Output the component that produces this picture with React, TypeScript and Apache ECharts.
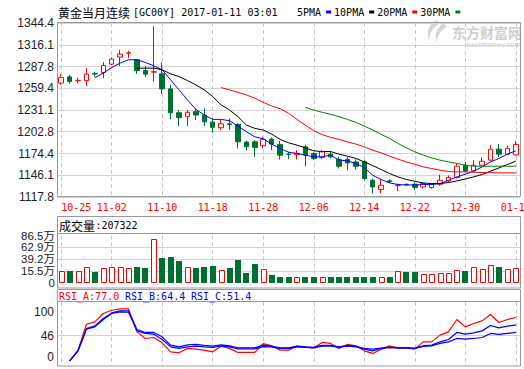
import React, { useEffect, useRef } from 'react';
import * as echarts from 'echarts';

const dates = [
  '10-25','10-26','10-27','10-28','10-31','11-01','11-02','11-03','11-04','11-07',
  '11-08','11-09','11-10','11-11','11-14','11-15','11-16','11-17','11-18','11-21',
  '11-22','11-23','11-24','11-25','11-28','11-29','11-30','12-01','12-02','12-05',
  '12-06','12-07','12-08','12-09','12-12','12-13','12-14','12-15','12-16','12-19',
  '12-20','12-21','12-22','12-23','12-26','12-27','12-28','12-29','12-30','01-03',
  '01-04','01-05','01-06','01-09','01-10'
];

const opens = [
  1266.0,1274.2,1269.3,1269.4,1278.7,1279.9,1290.8,1300.0,1305.0,1296.5,
  1282.5,1280.4,1278.2,1258.6,1227.6,1222.4,1228.9,1224.6,1215.4,1208.0,
  1213.0,1212.4,1189.3,1189.7,1184.5,1193.2,1186.3,1173.5,1173.0,1183.1,
  1174.5,1169.3,1173.6,1166.7,1166.7,1163.5,1164.0,1139.6,1127.5,1138.8,
  1132.5,1134.3,1134.4,1130.9,1130.1,1134.4,1138.7,1143.2,1159.2,1151.8,
  1159.2,1165.8,1180.1,1173.6,1172.7
];
const closes = [
  1273.3,1268.1,1269.8,1277.8,1278.0,1289.0,1297.4,1303.9,1305.5,1282.5,
  1277.8,1280.9,1258.6,1227.6,1221.1,1228.1,1224.6,1215.8,1208.5,1213.2,
  1212.3,1189.7,1183.2,1182.4,1192.8,1186.7,1172.3,1173.1,1174.4,1172.3,
  1168.0,1176.6,1170.1,1157.9,1162.2,1157.9,1141.8,1130.9,1133.1,1138.0,
  1133.1,1133.6,1130.1,1135.3,1134.4,1139.6,1143.2,1157.9,1151.8,1159.2,
  1164.4,1180.1,1173.6,1181.1,1186.3
];
const lows = [
  1263.8,1265.1,1266.0,1262.5,1274.6,1272.5,1289.5,1288.6,1298.7,1278.2,
  1273.9,1268.1,1252.0,1218.9,1210.2,1210.2,1218.0,1210.2,1201.4,1205.0,
  1205.0,1181.1,1178.8,1170.1,1181.1,1178.8,1166.7,1167.1,1166.7,1158.0,
  1166.0,1167.0,1168.0,1154.9,1152.7,1153.6,1139.6,1122.2,1123.0,1136.0,
  1125.6,1132.5,1126.5,1129.0,1128.5,1132.5,1137.0,1141.8,1150.5,1150.5,
  1157.9,1164.5,1170.1,1172.3,1171.9
];
const highs = [
  1277.8,1276.9,1273.3,1285.6,1280.8,1293.5,1299.5,1309.5,1308.2,1297.4,
  1288.6,1340.0,1292.9,1263.8,1231.1,1231.1,1233.3,1233.3,1220.3,1218.0,
  1219.9,1213.7,1191.0,1191.9,1196.2,1195.4,1191.0,1176.6,1178.8,1185.4,
  1176.0,1179.0,1177.0,1170.1,1170.1,1166.7,1165.8,1141.8,1141.8,1141.0,
  1135.3,1135.5,1136.9,1136.5,1135.5,1147.0,1146.0,1161.4,1163.5,1165.8,
  1169.3,1185.4,1186.7,1184.5,1190.6
];

const ma5 = [
  null,null,null,null,1273.3,1279.1,1286.4,1292.2,1296.5,1296.5,
  1293.0,1288.6,1283.4,1270.3,1257.3,1244.2,1232.0,1224.6,1218.9,1218.9,
  1217.1,1210.2,1202.8,1196.2,1193.6,1186.7,1181.1,1176.2,1174.5,1172.3,
  1170.1,1170.1,1172.3,1165.8,1164.9,1161.5,1156.2,1146.2,1140.6,1136.2,
  1134.0,1133.5,1133.5,1134.0,1134.0,1135.3,1139.6,1144.0,1147.5,1151.4,
  1157.0,1163.5,1168.0,1173.6,1177.9
];
const ma10 = [
  null,null,null,null,null,null,null,null,null,1285.6,
  1285.6,1285.6,1283.4,1278.2,1274.6,1269.4,1263.8,1257.3,1248.5,1237.7,
  1231.1,1222.4,1211.5,1207.2,1205.0,1199.7,1192.8,1188.4,1185.4,1181.8,
  1177.9,1177.0,1177.0,1173.6,1171.0,1168.0,1163.5,1158.8,1153.6,1148.4,
  1144.0,1140.6,1138.3,1136.1,1135.3,1135.3,1136.6,1138.7,1141.3,1144.0,
  1147.1,1151.4,1155.7,1160.1,1164.5
];
const ma20 = [
  null,null,null,null,null,null,null,null,null,null,
  null,null,null,null,null,null,null,null,null,1260.3,
  1257.3,1254.2,1250.7,1246.4,1241.0,1236.3,1232.8,1226.8,1218.9,1211.5,
  1204.1,1199.0,1195.5,1192.8,1189.7,1186.7,1183.1,1178.8,1175.3,1171.0,
  1167.1,1163.5,1160.5,1157.0,1154.9,1152.7,1151.0,1150.5,1150.5,1150.1,
  1149.7,1149.7,1149.2,1149.2,1149.2
];
const ma30 = [
  null,null,null,null,null,null,null,null,null,null,
  null,null,null,null,null,null,null,null,null,null,
  null,null,null,null,null,null,null,null,null,1234.6,
  1231.0,1228.1,1225.5,1222.4,1218.9,1215.0,1210.2,1205.0,1199.4,1194.1,
  1187.6,1181.8,1176.6,1172.3,1168.8,1165.8,1163.5,1161.5,1159.2,1157.9,
  1157.9,1157.9,1157.9,1157.9,1157.9
];

// volume in 万
const volumes = [
  15.0,15.6,15.0,22.5,13.6,20.5,22.5,22.5,20.5,23.1,
  21.1,78.9,41.8,43.2,35.8,22.5,21.1,23.1,25.1,17.1,
  21.1,37.2,11.6,29.7,18.5,7.0,3.0,3.0,2.8,3.0,
  3.0,2.8,3.0,3.0,3.0,3.0,3.0,3.0,2.8,3.0,
  15.0,13.6,13.6,9.0,9.0,11.0,11.0,17.1,15.0,22.5,
  19.1,27.1,23.1,19.1,21.5
];
const lastVolume = 207322;

const rsiA = [
  null,2.9,21.2,65.5,69.5,83.8,89.4,91.6,91.6,52.4,
  41.1,42.8,33.6,18.3,16.6,24.1,22.9,21.2,18.3,28.0,
  24.1,17.2,17.2,17.2,32.3,28.5,21.2,21.2,28.0,25.8,
  25.1,34.3,32.6,24.1,30.9,28.5,20.0,15.5,22.4,28.5,
  25.1,25.1,22.9,35.3,35.3,46.8,52.4,73.5,60.9,66.7,
  71.2,82.1,68.4,73.5,77.0
];
const rsiB = [
  null,2.9,20.0,58.2,62.6,75.3,84.8,88.2,88.2,56.5,
  51.4,51.4,43.9,29.7,26.8,30.2,30.9,29.2,28.0,30.2,
  28.5,25.1,25.1,25.1,29.7,28.0,25.1,25.1,28.0,26.8,
  25.8,29.2,29.2,26.8,29.2,28.0,22.9,20.0,24.1,25.8,
  25.1,25.1,24.1,28.5,29.7,35.3,39.4,51.4,48.5,50.7,
  54.1,63.3,59.2,62.1,64.4
];
const rsiC = [
  null,2.9,20.0,57.0,60.9,73.5,83.8,86.5,86.0,54.1,
  49.7,48.5,39.4,26.8,24.1,26.8,28.0,26.8,25.8,28.5,
  26.8,23.4,23.4,23.4,27.1,26.8,24.1,24.1,26.8,26.3,
  25.1,28.0,28.0,26.3,28.0,26.8,24.1,22.9,24.6,25.8,
  25.1,25.1,24.1,27.5,28.5,32.6,35.3,41.1,39.9,41.1,
  42.8,49.7,48.0,49.7,51.4
];

const priceTicks = ['1117.8','1146.1','1174.4','1202.8','1231.1','1259.4','1287.8','1316.1','1344.4'];
const volTicks = ['0','15.5万','39.2万','62.9万','86.5万'];
const rsiTicks = [0, 46, 100];

const maNames = ['5PMA', '10PMA', '20PMA', '30PMA'];
const maColors = ['#0000ff', '#000000', '#ff0000', '#008000'];
const maSeries = [ma5, ma10, ma20, ma30];
const rsiNames = ['RSI_A', 'RSI_B', 'RSI_C'];
const rsiColors = ['#ff0000', '#0000ff', '#0000ff'];
const rsiSeries = [rsiA, rsiB, rsiC];

const RED = '#ff0000';
const GREEN = '#007030';
const MONO = '"DejaVu Sans Mono", monospace';
const CJK = '"Noto Sans CJK SC"';
const GRID_L = 57;
const GRID_W = 463;

let logoRegistered = false;
function registerLogo() {
  if (logoRegistered) return;
  logoRegistered = true;
  echarts.graphic.registerShape(
    'emLogo',
    echarts.graphic.extendPath(
      'M14 0 C6 3 2 11 5 22 C6 14 9 8 16 4 Z M21 3 C13 8 11 16 13 24 C14 17 17 11 24 7 Z',
      {}
    ) as any
  );
}

function buildOption(): any {
  const candleData = dates.map((_, i) => [opens[i], closes[i], lows[i], highs[i]]);
  const volData = volumes.map((v, i) => [i, v, closes[i] >= opens[i] ? 1 : -1]);
  const VOL_MIN = -8.1;

  const xAxes = [0, 1, 2].map((g) => ({
    type: 'category',
    gridIndex: g,
    data: dates,
    boundaryGap: true,
    axisLine: { show: false },
    axisTick: { show: false },
    axisLabel:
      g === 0
        ? {
            show: true,
            interval: 5,
            color: RED,
            fontFamily: MONO,
            fontSize: 10,
            margin: 5,
            alignMinLabel: 'left',
            hideOverlap: false,
          }
        : { show: false },
    splitLine: {
      show: true,
      interval: 5,
      alignWithLabel: true,
      lineStyle: { color: '#c8c8c8', type: [4, 3], width: 1 },
    },
  }));

  const series: any[] = [
    {
      type: 'candlestick',
      name: 'K',
      xAxisIndex: 0,
      yAxisIndex: 0,
      data: candleData,
      barWidth: 5,
      itemStyle: {
        color: '#ffffff',
        color0: GREEN,
        borderColor: RED,
        borderColor0: GREEN,
        borderWidth: 1,
      },
      z: 3,
    },
    ...maSeries.map((d, k) => ({
      type: 'line',
      name: maNames[k],
      xAxisIndex: 0,
      yAxisIndex: 0,
      data: d,
      symbol: 'none',
      showSymbol: false,
      itemStyle: { color: maColors[k] },
      lineStyle: { color: maColors[k], width: 1 },
      z: 4,
    })),
    {
      type: 'custom',
      name: 'VOL',
      xAxisIndex: 1,
      yAxisIndex: 1,
      data: volData,
      encode: { x: 0, y: 1 },
      renderItem: (params: any, api: any) => {
        const i = api.value(0);
        const v = api.value(1);
        const up = api.value(2) > 0;
        const top = api.coord([i, v]);
        const base = api.coord([i, VOL_MIN]);
        if (up) {
          const w = 5;
          const x = Math.round(top[0] - w / 2) + 0.5;
          return {
            type: 'rect',
            shape: { x, y: Math.round(top[1]) + 0.5, width: w, height: Math.round(base[1]) - Math.round(top[1]) - 1 },
            style: { fill: '#ffffff', stroke: RED, lineWidth: 1 },
          };
        }
        const w = 6;
        const x = Math.round(top[0] - w / 2);
        return {
          type: 'rect',
          shape: { x, y: Math.round(top[1]), width: w, height: Math.round(base[1]) - Math.round(top[1]) },
          style: { fill: GREEN },
        };
      },
    },
    ...rsiSeries.map((d, k) => ({
      type: 'line',
      name: rsiNames[k],
      xAxisIndex: 2,
      yAxisIndex: 2,
      data: d,
      symbol: 'none',
      showSymbol: false,
      lineStyle: { color: rsiColors[k], width: 1.2 },
      z: 4,
      markLine:
        k === 2
          ? {
              silent: true,
              symbol: 'none',
              label: { show: false },
              lineStyle: { color: '#d0d0d0', type: 'solid', width: 1 },
              data: [{ yAxis: rsiTicks[1] }],
              z: 1,
            }
          : undefined,
    })),
  ];

  const last = dates.length - 1;

  const graphic: any[] = [
    // frames
    { type: 'rect', shape: { x: 57.5, y: 22.5, width: GRID_W, height: 174 }, style: { fill: 'none', stroke: '#9a9a9a', lineWidth: 1 }, z: 10, silent: true },
    { type: 'rect', shape: { x: 57.5, y: 216.5, width: GRID_W, height: 71.5 }, style: { fill: 'none', stroke: '#9a9a9a', lineWidth: 1 }, z: 10, silent: true },
    { type: 'line', shape: { x1: 57.5, y1: 233.5, x2: 57.5 + GRID_W, y2: 233.5 }, style: { stroke: '#9a9a9a', lineWidth: 1 }, z: 10, silent: true },
    { type: 'rect', shape: { x: 57.5, y: 289.5, width: GRID_W, height: 76.5 }, style: { fill: 'none', stroke: '#9a9a9a', lineWidth: 1 }, z: 10, silent: true },
    { type: 'line', shape: { x1: 57.5, y1: 301.5, x2: 57.5 + GRID_W, y2: 301.5 }, style: { stroke: '#9a9a9a', lineWidth: 1 }, z: 10, silent: true },
    // title
    { type: 'text', x: 58, y: 12, style: { text: '黄金当月连续', font: `12px ${CJK}`, fill: '#000', verticalAlign: 'middle' }, z: 10 },
    { type: 'text', x: 133, y: 12, style: { text: '[GC00Y] 2017-01-11 03:01', font: `10px ${MONO}`, fill: '#000', verticalAlign: 'middle' }, z: 10 },
    // watermark
    { type: 'emLogo', x: 424, y: 20, scaleX: 0.95, scaleY: 0.95, style: { fill: '#d6d6d6' }, z: 1, silent: true },
    { type: 'text', x: 452, y: 32, style: { text: '东方财富网', font: `bold 14px ${CJK}`, fill: '#cfcfcf', verticalAlign: 'middle' }, z: 1, silent: true },
    { type: 'text', x: 466, y: 45, style: { text: 'eastmoney.com', font: '7px "DejaVu Sans"', fill: '#cfcfcf', verticalAlign: 'middle' }, z: 1, silent: true },
    // volume header
    { type: 'text', x: 59, y: 225.5, style: { text: '成交量', font: `12px ${CJK}`, fill: '#000', verticalAlign: 'middle' }, z: 10 },
    { type: 'text', x: 95.5, y: 225.5, style: { text: ':' + lastVolume, font: `10px ${MONO}`, fill: '#000', verticalAlign: 'middle' }, z: 10 },
    // RSI header
    ...rsiNames.map((n, k) => ({
      type: 'text',
      x: 59 + k * 66,
      y: 296,
      style: {
        text: `${n}:${(rsiSeries[k][last] as number).toFixed(1)}`,
        font: `10px ${MONO}`,
        fill: rsiColors[k],
        verticalAlign: 'middle',
      },
      z: 10,
    })),
  ];

  const gridBase = { outerBoundsMode: 'none', containLabel: false };

  return {
    animation: false,
    backgroundColor: '#ffffff',
    legend: {
      data: maNames,
      left: 297,
      top: 7,
      align: 'right',
      icon: 'rect',
      itemWidth: 5,
      itemHeight: 3,
      itemGap: 3,
      padding: 0,
      selectedMode: false,
      textStyle: { fontFamily: MONO, fontSize: 10, color: '#000', padding: 0 },
    },
    grid: [
      { ...gridBase, left: GRID_L, top: 23, width: GRID_W, height: 174 },
      { ...gridBase, left: GRID_L, top: 235.5, width: GRID_W, height: 47 },
      { ...gridBase, left: GRID_L, top: 302, width: GRID_W, height: 64 },
    ],
    xAxis: xAxes,
    yAxis: [
      {
        type: 'value',
        gridIndex: 0,
        min: 1117.8,
        max: 1344.4,
        interval: 28.325,
        axisLine: { show: false },
        axisTick: { show: false },
        axisLabel: {
          formatter: (_v: number, i: number) => priceTicks[i] ?? '',
          fontFamily: '"Liberation Sans", Arial',
          fontSize: 12,
          color: '#222',
          margin: 3,
          showMinLabel: true,
          showMaxLabel: true,
        },
        splitLine: { show: true, lineStyle: { color: '#d4d4d4', width: 1 } },
      },
      {
        type: 'value',
        gridIndex: 1,
        min: VOL_MIN,
        max: 86.5,
        interval: 23.65,
        axisLine: { show: false },
        axisTick: { show: false },
        axisLabel: {
          interval: 0,
          formatter: (_v: number, i: number) => volTicks[i] ?? '',
          fontFamily: `"Liberation Sans", ${CJK}`,
          fontSize: 11.5,
          lineHeight: 10,
          color: '#222',
          margin: 2,
          showMinLabel: true,
          showMaxLabel: true,
          hideOverlap: false,
        },
        splitLine: { show: true, showMinLine: false, showMaxLine: false, lineStyle: { color: '#d4d4d4', width: 1 } },
      },
      {
        type: 'value',
        gridIndex: 2,
        min: -6,
        max: 103.5,
        axisLine: { show: false },
        axisTick: { show: false },
        axisLabel: {
          customValues: rsiTicks,
          fontFamily: '"Liberation Sans", Arial',
          fontSize: 12,
          color: '#222',
          margin: 3,
          formatter: (v: number) =>
            v === rsiTicks[2] ? `{t|${v}}` : v === rsiTicks[0] ? `{b|${v}}` : `{m|${v}}`,
          rich: {
            t: { padding: [15, 0, 0, 0], fontSize: 12, fontFamily: '"Liberation Sans", Arial', color: '#222' },
            b: { padding: [0, 0, 11, 0], fontSize: 12, fontFamily: '"Liberation Sans", Arial', color: '#222' },
            m: { fontSize: 12, fontFamily: '"Liberation Sans", Arial', color: '#222' },
          },
        },
        splitLine: { show: false },
      },
    ],
    series,
    graphic,
  };
}

export default function App() {
  const ref = useRef<HTMLDivElement>(null);
  useEffect(() => {
    if (!ref.current) return;
    registerLogo();
    const chart = echarts.init(ref.current, undefined, { renderer: 'svg' });
    chart.setOption(buildOption());
    return () => {
      chart.dispose();
    };
  }, []);
  return (
    <div
      ref={ref}
      style={{ position: 'fixed', left: 0, top: 0, width: 524, height: 369, background: '#fff' }}
    />
  );
}
